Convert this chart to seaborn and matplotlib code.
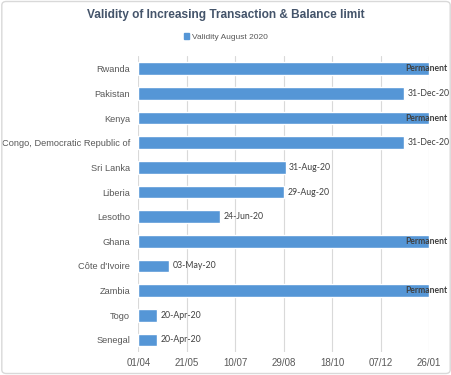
import pandas as pd
import numpy as np
import matplotlib
matplotlib.use("Agg")
import matplotlib.pyplot as plt
import matplotlib.patches as mpatches
from matplotlib.ticker import FuncFormatter, MultipleLocator
import seaborn as sns

# data
countries = ["Rwanda", "Pakistan", "Kenya", "Congo, Democratic Republic of",
             "Sri Lanka", "Liberia", "Lesotho", "Ghana", "Côte d'Ivoire",
             "Zambia", "Togo", "Senegal"]
end_dates = ["2021-01-26", "2020-12-31", "2021-01-26", "2020-12-31",
             "2020-08-31", "2020-08-29", "2020-06-24", "2021-01-26",
             "2020-05-03", "2021-01-26", "2020-04-20", "2020-04-20"]
labels = ["Permanent", "31-Dec-20", "Permanent", "31-Dec-20", "31-Aug-20",
          "29-Aug-20", "24-Jun-20", "Permanent", "03-May-20", "Permanent",
          "20-Apr-20", "20-Apr-20"]
start = pd.Timestamp("2020-04-01")
axis_end = pd.Timestamp("2021-01-26")

df = pd.DataFrame({"country": countries, "end": pd.to_datetime(end_dates), "label": labels})
df["days"] = (df["end"] - start).dt.days

sns.set_style("white")
plt.rcParams["font.family"] = ["Liberation Sans", "DejaVu Sans"]

fig = plt.figure(figsize=(4.52, 3.75), dpi=100)
ax = fig.add_axes([138.5 / 452, 1 - 352.3 / 375, (429 - 138.5) / 452, (352.3 - 56.4) / 375])

bar_color = "#5596D6"
sns.barplot(data=df, x="days", y="country", orient="h", color=bar_color,
            width=0.52, saturation=1, ax=ax, zorder=3)

span = (axis_end - start).days
ax.set_xlim(0, span)
ax.xaxis.set_major_locator(MultipleLocator(50))
ax.xaxis.set_major_formatter(FuncFormatter(
    lambda v, p: (start + pd.Timedelta(days=v)).strftime("%d/%m")))
ax.grid(axis="x", color="#D9D9D9", linewidth=0.8, zorder=0)
ax.grid(axis="y", visible=False)
for s in ax.spines.values():
    s.set_visible(False)
ax.set_xlabel("")
ax.set_ylabel("")
ax.tick_params(axis="both", length=0, labelcolor="#595959")
ax.tick_params(axis="x", pad=4, labelsize=7)
ax.tick_params(axis="y", pad=6, labelsize=6.7)

for i, row in df.iterrows():
    if row["label"] == "Permanent":
        ax.annotate(row["label"], (row["days"], i), xytext=(-17, 0),
                    textcoords="offset points", va="center", ha="left",
                    fontsize=6.2, color="#404040", fontweight="bold",
                    family=["Lato", "DejaVu Sans"], zorder=4, annotation_clip=False)
    else:
        ax.annotate(row["label"], (row["days"], i), xytext=(2.5, 0),
                    textcoords="offset points", va="center", ha="left",
                    fontsize=6.3, color="#404040",
                    family=["Lato", "DejaVu Sans"], zorder=4)

fig.text(0.5, 1 - 15 / 375, "Validity of Increasing Transaction & Balance limit",
         ha="center", va="center", fontsize=8.6, fontweight="bold", color="#44546A")
handle = mpatches.Patch(color=bar_color, label="Validity August 2020")
leg = fig.legend(handles=[handle], loc="center", bbox_to_anchor=(0.5, 1 - 37 / 375),
                 frameon=False, fontsize=6.0, handlelength=0.6, handleheight=0.6,
                 handletextpad=0.4, labelcolor="#595959")

fig.patches.append(mpatches.FancyBboxPatch((0.004, 0.004), 0.992, 0.992,
                   boxstyle="round,pad=0,rounding_size=0.01", transform=fig.transFigure,
                   facecolor="none", edgecolor="#D9D9D9", linewidth=1))

fig.savefig("out.png", dpi=100)
